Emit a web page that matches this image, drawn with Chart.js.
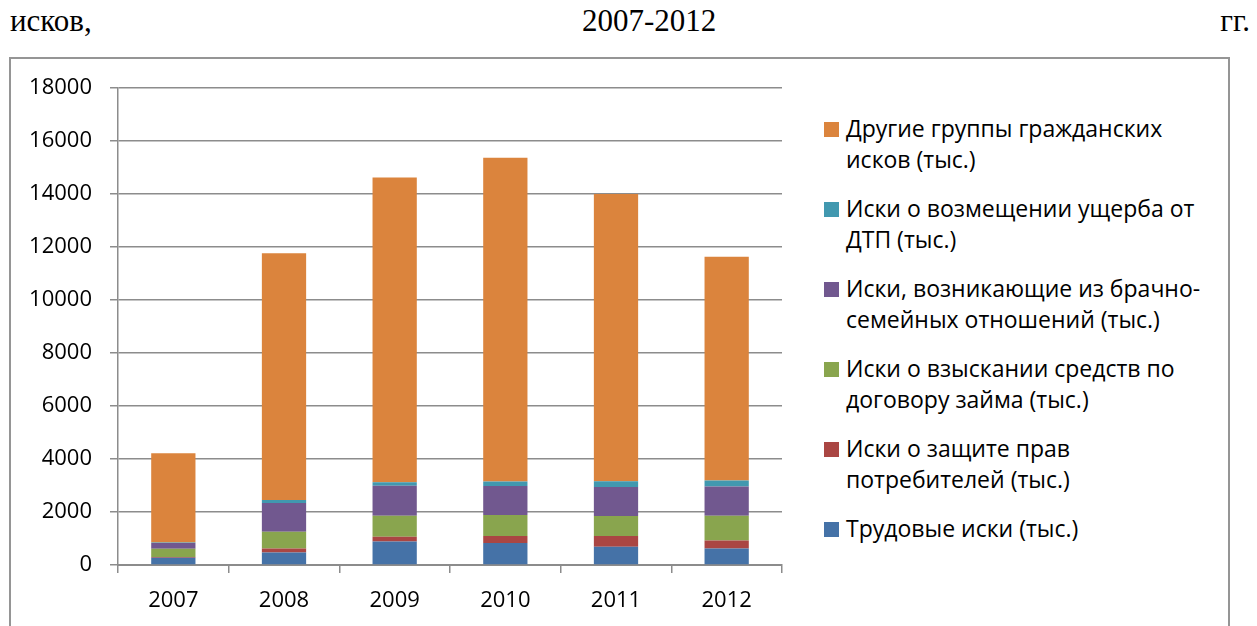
<!DOCTYPE html>
<html lang="ru">
<head>
    <meta charset="UTF-8">
    <title>Гражданские иски 2007-2012</title>
    <script src="https://cdn.jsdelivr.net/npm/chart.js"></script>
    <style>
        body { margin: 0; width: 1257px; height: 626px; overflow: hidden; background: #fff; position: relative; }
        .head { position: absolute; top: 3px; font-family: "Liberation Serif", "Times New Roman", serif; font-size: 31px; color: #000; }
        .frame { position: absolute; left: 9px; top: 57px; width: 1217px; height: 640px; border: 2px solid #959595; }
        #chartBox { position: absolute; left: 0; top: 0; width: 800px; height: 626px; }
        .legend { position: absolute; left: 824px; top: 113px; font-family: "Open Sans", sans-serif; font-size: 23px; color: #000; }
        .legend-item { display: flex; align-items: flex-start; margin-bottom: 18px; line-height: 31px; }
        .legend-item .box { width: 15px; height: 15px; margin-top: 9px; margin-right: 7px; flex: none; }
    </style>
</head>
<body>
    <div class="head" style="left: 10px;">исков,</div>
    <div class="head" style="left: 582px;">2007-2012</div>
    <div class="head" style="right: 7px;">гг.</div>
    <div class="frame"></div>
    <div id="chartBox"><canvas id="claimsChart"></canvas></div>
    <div class="legend" id="legend"></div>

    <script>
        // Годы и значения по группам исков (тыс.)
        const years = ['2007', '2008', '2009', '2010', '2011', '2012'];
        const labourClaims = [275, 475, 890, 830, 690, 625];
        const consumerClaims = [25, 150, 175, 265, 400, 300];
        const loanClaims = [310, 630, 790, 790, 755, 930];
        const familyClaims = [220, 1080, 1140, 1095, 1095, 1105];
        const trafficClaims = [20, 115, 130, 175, 225, 225];
        const otherClaims = [3370, 9310, 11500, 12210, 10835, 8445];
        const yTicks = [0, 2000, 4000, 6000, 8000, 10000, 12000, 14000, 16000, 18000];

        const series = [
            { label: ['Трудовые иски (тыс.)'], data: labourClaims, color: '#4572A7' },
            { label: ['Иски о защите прав', 'потребителей (тыс.)'], data: consumerClaims, color: '#AA4643' },
            { label: ['Иски о взыскании средств по', 'договору займа (тыс.)'], data: loanClaims, color: '#89A54E' },
            { label: ['Иски, возникающие из брачно-', 'семейных отношений (тыс.)'], data: familyClaims, color: '#71588F' },
            { label: ['Иски о возмещении ущерба от', 'ДТП (тыс.)'], data: trafficClaims, color: '#4198AF' },
            { label: ['Другие группы гражданских', 'исков (тыс.)'], data: otherClaims, color: '#DB843D' }
        ];

        const gridColor = '#8c8c8c';
        const tickFont = { family: 'Open Sans', size: 22 };

        // Легенда справа, в обратном порядке, как в Excel
        function buildLegend() {
            const legend = document.getElementById('legend');
            legend.innerHTML = series.slice().reverse().map(s => `
                <div class="legend-item">
                    <span class="box" style="background:${s.color}"></span>
                    <span>${s.label.join('<br>')}</span>
                </div>
            `).join('');
        }

        function createChart() {
            const ctx = document.getElementById('claimsChart').getContext('2d');
            new Chart(ctx, {
                type: 'bar',
                data: {
                    labels: years,
                    datasets: series.map(s => ({
                        label: s.label.join(' '),
                        data: s.data,
                        backgroundColor: s.color,
                        borderWidth: 0,
                        barPercentage: 0.4,
                        categoryPercentage: 1
                    }))
                },
                options: {
                    responsive: true,
                    maintainAspectRatio: false,
                    animation: false,
                    layout: { padding: { top: 88, right: 18, left: 0, bottom: 0 } },
                    scales: {
                        x: {
                            stacked: true,
                            grid: { drawOnChartArea: false, drawTicks: true, tickLength: 8, color: gridColor, lineWidth: 1.5, offset: true },
                            border: { display: true, color: gridColor, width: 2 },
                            ticks: { color: '#000', font: tickFont, padding: 15 },
                            afterFit: scale => { scale.height = 61; }
                        },
                        y: {
                            stacked: true,
                            min: 0,
                            max: 18000,
                            afterBuildTicks: scale => { scale.ticks = yTicks.map(v => ({ value: v })); },
                            grid: { color: gridColor, lineWidth: 1.5, tickLength: 8 },
                            border: { display: true, color: gridColor, width: 1.5 },
                            ticks: { color: '#000', font: tickFont, padding: 18, callback: v => String(v) },
                            afterFit: scale => { scale.width = 118; }
                        }
                    },
                    plugins: {
                        legend: { display: false },
                        tooltip: { enabled: false }
                    }
                }
            });
        }

        buildLegend();
        createChart();
    </script>
</body>
</html>
